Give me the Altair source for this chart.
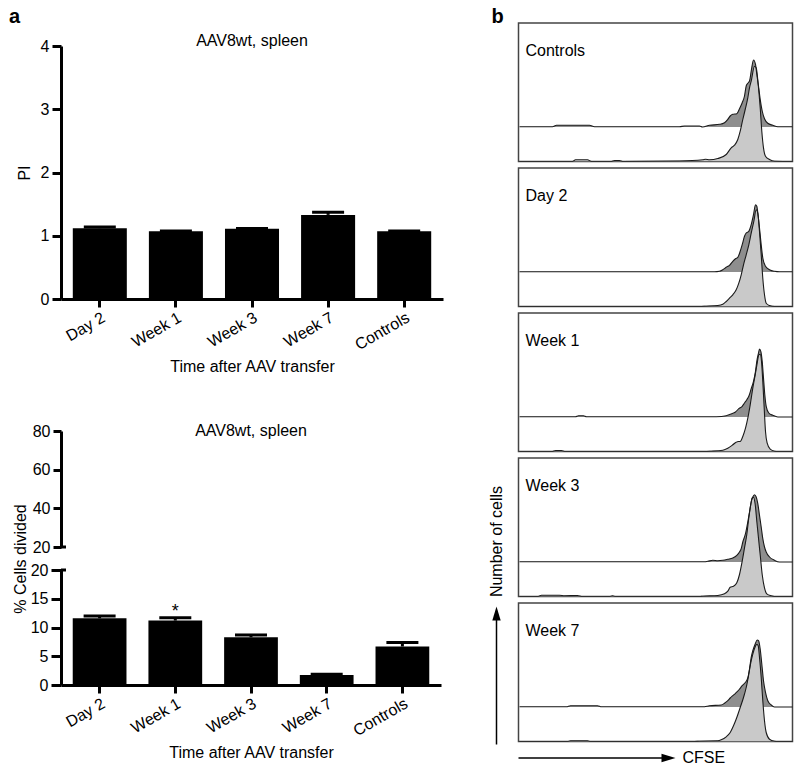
import altair as alt
import pandas as pd

# ---------------- data: panel a ----------------
CATEGORIES = ["Day 2", "Week 1", "Week 3", "Week 7", "Controls"]
PI_MEAN = [1.12, 1.07, 1.11, 1.33, 1.07]
PI_ERR = [0.02, 0.005, 0.005, 0.04, 0.005]
DIV_MEAN = [11.6, 11.2, 8.3, 1.75, 6.7]
DIV_ERR = [0.4, 0.5, 0.4, 0.1, 0.7]
SIG_CAT = ["Week 1"]
SIG_Y = [11.9]
SIG_TEXT = ["*"]
BREAK_AT = [20]
PI_TICKS = [0, 1, 2, 3, 4]
DIV_TICKS_LOW = [0, 5, 10, 15, 20]
DIV_TICKS_HIGH = [20, 40, 60, 80]

# ---------------- data: panel b (CFSE histograms, arbitrary units) ----------------
PANELS = ["Controls", "Day 2", "Week 1", "Week 3", "Week 7"]

CTRL_UP_X = [0, 33, 37, 70, 75, 160, 165, 180, 183, 190, 200, 205, 208.3, 210.7, 213.3, 217.3, 220, 222.7,
             225, 226.7, 228.3, 230, 232, 234, 236, 237.3, 239, 240.7, 242.7, 245, 248.3, 253.3, 258.3, 279]
CTRL_UP_H = [0.3, 0.3, 1.7, 1.7, 0.3, 0.3, 1.0, 1.0, 0.0, 1.7, 2.7, 4.3, 7.7, 11, 12.7, 13.3, 18.3, 24.3,
             31, 41, 43.7, 46, 57.7, 67, 62.7, 52.7, 41, 27.7, 16, 8.3, 3.7, 1.7, 0.3, 0.3]
CTRL_LO_X = [0, 53, 56, 68, 72, 92, 95, 100, 103, 160, 183.3, 186, 190, 198.3, 206.7, 211.7, 215, 218.3,
             220.7, 223.3, 225.7, 228.3, 230, 231.7, 235, 236.7, 238.7, 240.7, 242.3, 244, 246, 250, 255, 279]
CTRL_LO_H = [0, 0, 1.7, 1.7, 0, 0, 1, 1, 0, 0.5, 1.7, 2.2, 1.7, 3, 7, 13.7, 16.3, 22,
             30.3, 42, 52, 63.7, 73.7, 80.3, 95.3, 93.7, 77, 53.7, 30.3, 13.7, 5.3, 2, 0.3, 0]

D2_UP_X = [0, 195, 200, 203.3, 206.7, 210, 213.3, 216, 218.3, 220.7, 222.7, 225, 226.7, 229.3, 231.7, 234,
           236, 237.3, 238.7, 240, 241.7, 243.3, 246, 250, 255, 260, 279]
D2_UP_H = [0.2, 0.2, 0.7, 2.3, 4.7, 6.7, 10.7, 13.3, 14.7, 20.7, 27.3, 35.7, 39, 40.7, 47.3, 57.3,
           67.3, 65.7, 55.7, 44, 27.3, 14, 5.7, 2.3, 0.7, 0.2, 0.2]
D2_LO_X = [0, 180, 186.7, 198.3, 203.3, 206.7, 210, 213.3, 216.7, 219.3, 221.7, 224, 226.7, 229.3, 231.7,
           234.3, 236.7, 238.3, 240, 241.7, 243.3, 245, 246.7, 250, 255, 279]
D2_LO_H = [0, 0, 0.3, 1, 2.3, 5, 8.3, 11.7, 16.7, 23.3, 31.7, 41.7, 51.7, 61.7, 73.3,
           85, 96.7, 93.3, 75, 51.7, 28.3, 11.7, 3.3, 1, 0, 0]

W1_UP_X = [0, 56, 59, 64, 67, 190, 196.7, 206.7, 211.7, 216, 219.3, 222.7, 225, 227.3, 229.3, 231.7, 234,
           236, 237.3, 239, 240, 241.3, 242.7, 244, 245.3, 246.7, 249.3, 253.3, 258.3, 279]
W1_UP_H = [0.2, 0.2, 1.2, 1.2, 0.2, 0.2, 0.3, 1.3, 3, 5, 8.3, 10.7, 14, 17.3, 20.7, 28.3, 35.7,
           45.7, 55.7, 64, 68, 65.7, 55.7, 39, 22.3, 10.7, 4, 1.7, 0, 0]
W1_LO_X = [0, 33, 36, 42, 45, 185, 191.7, 203.3, 208.3, 213.3, 216.7, 218.7, 220.7, 223.3, 226, 228.3,
           230.7, 233.3, 235.7, 237.7, 239.3, 240.7, 242, 243.3, 244.7, 246, 247.7, 250.7, 255, 258.3, 279]
W1_LO_H = [0, 0, 1, 1, 0, 0, 0.3, 1.3, 3.3, 6.7, 9.3, 10, 10, 15, 23.3, 33.3,
           46.7, 63.3, 76.7, 88.3, 96.7, 97.3, 90, 70, 43.3, 20, 8.3, 2.3, 0.3, 0, 0]

W3_UP_X = [0, 185, 188.3, 193.3, 198.3, 203.3, 208.3, 213.3, 217.3, 220, 221.7, 223.3, 226, 228.3, 230,
           231.7, 233.3, 235, 236.7, 238.3, 240, 241.7, 243.3, 245, 246.7, 250, 255, 260, 279]
W3_UP_H = [0.2, 0.2, 0.7, 1.7, 1.3, 1.7, 2.7, 4, 6.7, 10, 13.3, 20, 28.3, 40, 50,
           60, 65, 67.3, 65, 58.3, 46.7, 35, 23.3, 15, 10, 5, 1.7, 0, 0]
W3_LO_X = [0, 18, 22, 40, 45, 58, 62, 90, 93, 96, 180, 183.3, 198.3, 205, 208.3, 210.7, 214, 217.3, 220,
           222.7, 225, 227.3, 229.3, 231, 232.7, 234, 235.7, 237.3, 239.3, 241, 242.7, 245, 247.3,
           251.7, 255, 279]
W3_LO_H = [0, 0, 1.2, 1.2, 0.8, 1.0, 0, 0, 0.7, 0, 0, 0.3, 1, 2.7, 5.3, 9.3, 10.3, 13.7, 22,
           35.3, 48.7, 62, 78.7, 90.3, 98.7, 99.3, 92, 75.3, 55.3, 38.7, 22, 8.7, 2.7,
           0.7, 0, 0]

W7_UP_X = [0, 47, 51, 78, 82, 182, 185, 190, 201.7, 205, 208.3, 210.7, 213.3, 216, 219.3, 222.7, 226,
           228.3, 230, 231.7, 233.3, 235.7, 237.7, 239, 240.7, 242.3, 244, 246, 248.3, 251.7, 255, 279]
W7_UP_H = [0.2, 0.2, 1.3, 1.3, 0.2, 0.2, 0.3, 1.3, 2, 3.7, 6.3, 9, 11.3, 13.7, 17, 21.3, 24.7,
           29, 38, 49.7, 56.3, 63, 67, 66.3, 58, 43, 26.3, 14.7, 6.3, 2, 0, 0]
W7_LO_X = [0, 48, 51, 68, 71, 175, 180, 198.3, 201.7, 206.7, 210.7, 214, 217.3, 220.7, 224, 226.7, 229,
           231, 233.3, 235.7, 237.3, 238.7, 240, 241.7, 243.3, 245, 246.7, 250, 255, 258.3, 279]
W7_LO_H = [0, 0, 0.7, 0.7, 0, 0, 0.3, 0.7, 1.7, 4.7, 9, 15.7, 24, 34, 44, 54, 65.7,
           77.3, 87.3, 94.7, 97.3, 95.7, 84, 64, 40.7, 20.7, 9, 2.3, 0.3, 0, 0]

CURVES = {
    "Controls": (CTRL_UP_X, CTRL_UP_H, CTRL_LO_X, CTRL_LO_H),
    "Day 2": (D2_UP_X, D2_UP_H, D2_LO_X, D2_LO_H),
    "Week 1": (W1_UP_X, W1_UP_H, W1_LO_X, W1_LO_H),
    "Week 3": (W3_UP_X, W3_UP_H, W3_LO_X, W3_LO_H),
    "Week 7": (W7_UP_X, W7_UP_H, W7_LO_X, W7_LO_H),
}
CFSE_RANGE = [-1, 273]
COUNT_MAX = 138.5

# ---------------- styling ----------------
FONT = "Liberation Sans"
FS = 16
DARK = "#8e8e8e"
LIGHT = "#c9c9c9"
LINE = "#1a1a1a"
UP_OFFSET = 34.5
PANEL_W = 274
PANEL_H = 138.5

bar_df = pd.DataFrame({
    "cat": CATEGORIES,
    "pi": PI_MEAN,
    "pi_hi": [m + e for m, e in zip(PI_MEAN, PI_ERR)],
    "div": DIV_MEAN,
    "div_hi": [m + e for m, e in zip(DIV_MEAN, DIV_ERR)],
})
sig_df = pd.DataFrame({"cat": SIG_CAT, "y": SIG_Y, "t": SIG_TEXT})
break_df = pd.DataFrame({"v": BREAK_AT})
one = pd.DataFrame({"v": [0]})


def band_x():
    scale = alt.Scale(domain=CATEGORIES, paddingInner=0.29, paddingOuter=0.155)
    axis = alt.Axis(title="Time after AAV transfer", labelAngle=-30, labelAlign="right",
                    labelBaseline="top", tickSize=8, tickWidth=3, domainWidth=3,
                    labelFontSize=FS, labelPadding=2, titleFontSize=FS, titlePadding=6)
    return alt.X("cat:N", sort=CATEGORIES, scale=scale, axis=axis)


def yaxis(values, tick_size, title, title_padding, title_y=None):
    kw = dict(values=values, tickSize=tick_size, tickWidth=3, domainWidth=3, labelFontSize=FS,
              labelPadding=3, titleFontSize=FS, titlePadding=title_padding, title=title)
    if title_y is not None:
        kw["titleY"] = title_y
    return alt.Axis(**kw)


chart_title_kw = dict(fontSize=FS, fontWeight="normal", anchor="middle", frame="group",
                      baseline="alphabetic")


def letter(txt, dx, w, h):
    return alt.Chart(one).mark_text(text=txt, fontSize=20, fontWeight="bold", align="left",
                                    baseline="alphabetic", color="black").encode(
        x=alt.value(dx), y=alt.value(7)).properties(width=w, height=h)


# --- panel letter row for a ---
top_pad = letter("a", -52, 380, 7)

# --- top bar chart (PI) ---
pi_scale = alt.Scale(domain=[0, 4], nice=False, padding=0)
pi_axis = yaxis(PI_TICKS, 9, "PI", 8)
top_bars = alt.Chart(bar_df).mark_bar(color="black").encode(
    x=band_x(), y=alt.Y("pi:Q", scale=pi_scale, axis=pi_axis))
top_err = alt.Chart(bar_df).mark_rule(color="black", strokeWidth=3).encode(
    x=band_x(), y=alt.Y("pi:Q", scale=pi_scale, axis=pi_axis), y2="pi_hi:Q")
top_cap = alt.Chart(bar_df).mark_tick(color="black", thickness=3, size=32, opacity=1).encode(
    x=band_x(), y=alt.Y("pi_hi:Q", scale=pi_scale, axis=pi_axis))
top_chart = alt.layer(top_bars, top_err, top_cap).properties(
    width=382, height=253,
    title=alt.TitleParams("AAV8wt, spleen", offset=-23.5, **chart_title_kw))

# --- spacer ---
spacer = alt.Chart(one).mark_rule(opacity=0).encode(
    x=alt.value(0), x2=alt.value(1), y=alt.value(0)).properties(width=380, height=86)

# --- bottom chart, upper segment (20-80) ---
hi_scale = alt.Scale(domain=[20, 80], nice=False, zero=False, padding=0)
upper_seg = alt.Chart(break_df).mark_rule(color="black", strokeWidth=3).encode(
    y=alt.Y("v:Q", scale=hi_scale, axis=yaxis(DIV_TICKS_HIGH, 8, None, 6)),
    x=alt.value(0), x2=alt.value(5)
).properties(width=380, height=116,
             title=alt.TitleParams("AAV8wt, spleen", offset=-29.3, **chart_title_kw))

# --- bottom chart, lower segment (0-20) ---
lo_scale = alt.Scale(domain=[0, 20], nice=False, padding=0)
lo_axis = yaxis(DIV_TICKS_LOW, 10, "% Cells divided", 2, title_y=-11.5)
low_bars = alt.Chart(bar_df).mark_bar(color="black").encode(
    x=band_x(), y=alt.Y("div:Q", scale=lo_scale, axis=lo_axis))
low_err = alt.Chart(bar_df).mark_rule(color="black", strokeWidth=3).encode(
    x=band_x(), y=alt.Y("div:Q", scale=lo_scale, axis=lo_axis), y2="div_hi:Q")
low_cap = alt.Chart(bar_df).mark_tick(color="black", thickness=3, size=32, opacity=1).encode(
    x=band_x(), y=alt.Y("div_hi:Q", scale=lo_scale, axis=lo_axis))
low_sig = alt.Chart(sig_df).mark_text(fontSize=18, baseline="alphabetic", color="black").encode(
    x=band_x(), y=alt.Y("y:Q", scale=lo_scale, axis=lo_axis), text="t:N")
low_break = alt.Chart(break_df).mark_rule(color="black", strokeWidth=3).encode(
    y=alt.Y("v:Q", scale=lo_scale, axis=lo_axis), x=alt.value(0), x2=alt.value(5))
lower_seg = alt.layer(low_bars, low_err, low_cap, low_sig, low_break).properties(width=380, height=115)

left_col = alt.vconcat(top_pad, top_chart, spacer, upper_seg, lower_seg, spacing=23, bounds="flush")


# ---------------- panel b ----------------
def hist_panel(name):
    ux, uh, lx, lh = CURVES[name]
    up = pd.DataFrame({"x": ux, "top": [h + UP_OFFSET for h in uh], "base": [UP_OFFSET] * len(ux)})
    lo = pd.DataFrame({"x": lx, "top": lh, "base": [0.0] * len(lx)})
    xs = alt.X("x:Q", scale=alt.Scale(domain=CFSE_RANGE, nice=False, zero=False), axis=None)
    ys = alt.Y("top:Q", scale=alt.Scale(domain=[0, COUNT_MAX], nice=False), axis=None)
    a_up = alt.Chart(up).mark_area(color=DARK, interpolate="monotone", clip=True).encode(
        x=xs, y=ys, y2="base:Q")
    a_lo = alt.Chart(lo).mark_area(color=LIGHT, interpolate="monotone", clip=True).encode(
        x=xs, y=ys, y2="base:Q")
    l_up = alt.Chart(up).mark_line(color=LINE, strokeWidth=1.1, interpolate="monotone", clip=True).encode(
        x=xs, y=ys)
    l_lo = alt.Chart(lo).mark_line(color=LINE, strokeWidth=1.1, interpolate="monotone", clip=True).encode(
        x=xs, y=ys)
    return alt.layer(a_up, a_lo, l_up, l_lo).properties(
        width=PANEL_W, height=PANEL_H,
        view=alt.ViewBackground(stroke="#444444", strokeWidth=1.5),
        title=alt.TitleParams(name, anchor="start", frame="group", dx=7, offset=-48.5,
                              baseline="alphabetic", fontSize=16, fontWeight="normal"))


arrow_h = alt.Chart(one).mark_rule(color="black", strokeWidth=1.5).encode(
    x=alt.value(0), x2=alt.value(145), y=alt.value(10))
head_h = alt.Chart(one).mark_point(shape="M-1,-0.6L1,0L-1,0.6Z", size=196, filled=True,
                                   color="black", opacity=1).encode(x=alt.value(150), y=alt.value(10))
cfse = alt.Chart(one).mark_text(text="CFSE", fontSize=16, align="left", baseline="middle",
                                color="black").encode(x=alt.value(164), y=alt.value(10))
arrow_v = alt.Chart(one).mark_rule(color="black", strokeWidth=1.5).encode(
    x=alt.value(-22), y=alt.value(-3.5), y2=alt.value(-130))
head_v = alt.Chart(one).mark_point(shape="M0,-1L0.6,1L-0.6,1Z", size=196, filled=True,
                                   color="black", opacity=1).encode(x=alt.value(-22), y=alt.value(-134.5))
ncells = alt.Chart(one).mark_text(text="Number of cells", fontSize=FS, angle=270, align="center",
                                  baseline="middle", color="black").encode(
    x=alt.value(-22), y=alt.value(-206.5))
deco = alt.layer(arrow_h, head_h, cfse, arrow_v, head_v, ncells).properties(width=PANEL_W, height=1)

right_pad = letter("b", -27, PANEL_W, 1)
right_col = alt.vconcat(right_pad, *[hist_panel(p) for p in PANELS], deco, spacing=6, bounds="flush")

chart = alt.hconcat(left_col, right_col, spacing=43.5).properties(
    padding={"top": -2, "left": 0, "right": 0, "bottom": 0}, background="white"
).configure(font=FONT).configure_view(stroke="transparent").configure_axis(
    grid=False, labelColor="black", titleColor="black", domainColor="black", tickColor="black",
    titleFontWeight="normal", labelFont=FONT, titleFont=FONT
).configure_title(color="black", font=FONT)

chart.save("out.html", embed_options={"renderer": "svg", "actions": False})
